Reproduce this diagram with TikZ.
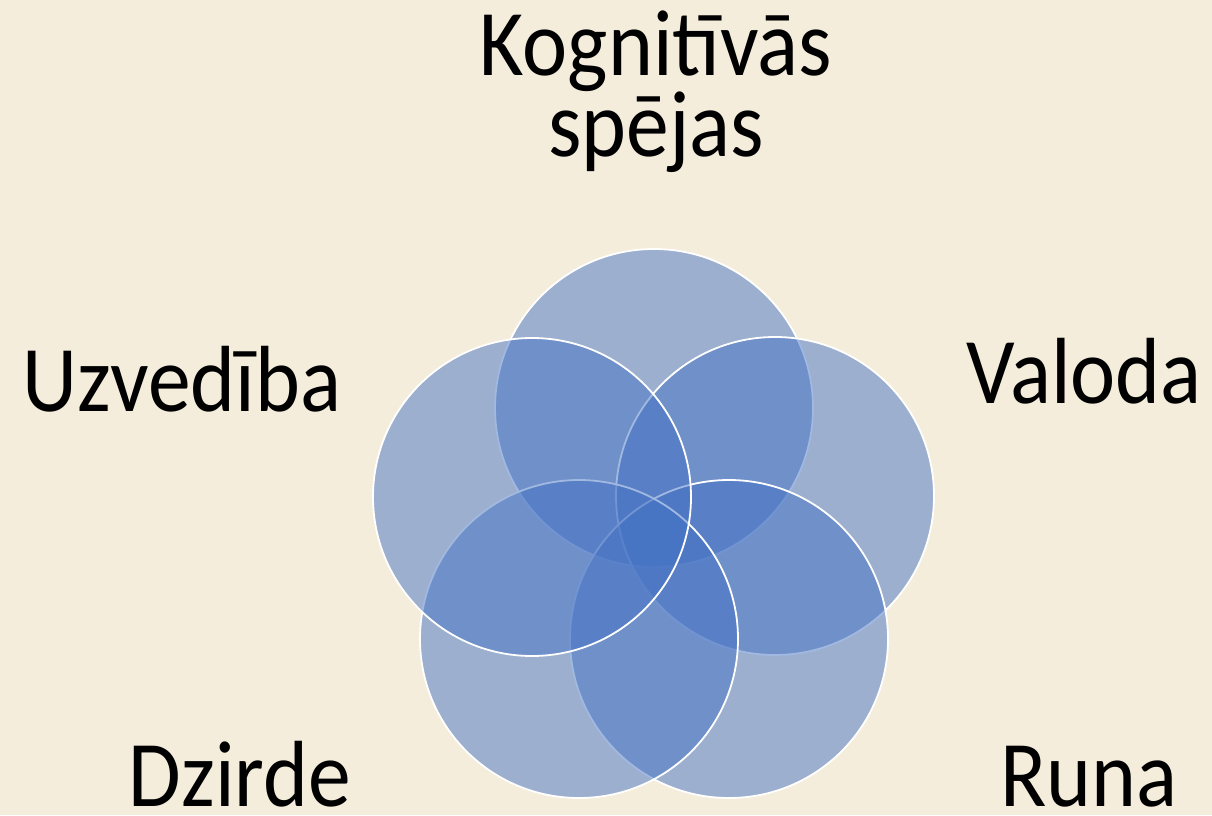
\documentclass[tikz,border=0pt]{standalone}
\usepackage{fontspec}
\setmainfont{Carlito}
\definecolor{parch}{RGB}{245,237,220}
\definecolor{venn}{RGB}{68,114,196}
\newcommand{\narrow}[1]{\scalebox{0.91}[1]{#1}}
\begin{document}
\begin{tikzpicture}[x=1pt,y=1pt,
  vcirc/.style={circle,minimum size=318pt,inner sep=0pt,fill=venn,fill opacity=0.5,draw=white,draw opacity=1,line width=1.8pt},
  lbl/.style={inner sep=0pt,text depth=0pt,font=\fontsize{94}{80}\selectfont,text=black}]
\fill[parch] (0,0) rectangle (1212,815);
\useasboundingbox (0,0) rectangle (1212,815);
\node[vcirc] (c1) at (654,407) {};
\node[vcirc] (c2) at (775,319) {};
\node[vcirc] (c3) at (729,176) {};
\node[vcirc] (c4) at (579,176) {};
\node[vcirc] (c5) at (532,318) {};
\node[lbl,align=center,anchor=base] (t1) at (656,658) {\narrow{Kognitīvās}\\\narrow{spējas}};
\node[lbl,anchor=base] (t2) at (1084,411) {\narrow{Valoda}};
\node[lbl,anchor=base] (t3) at (1089,9) {\narrow{Runa}};
\node[lbl,anchor=base] (t4) at (240,9) {\narrow{Dzirde}};
\node[lbl,anchor=base] (t5) at (182,404) {\narrow{Uzvedība}};
\end{tikzpicture}
\end{document}
